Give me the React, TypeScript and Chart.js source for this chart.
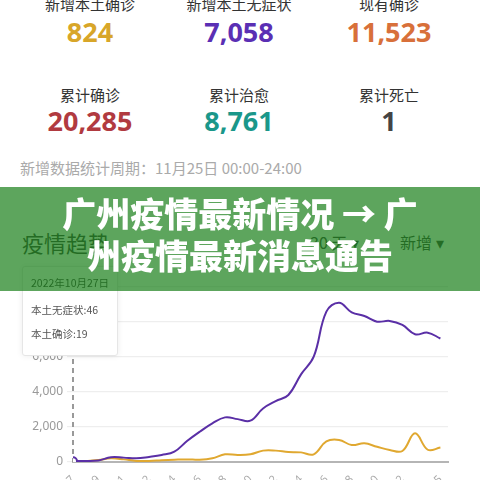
import React, { useEffect, useRef } from "react";
import { Chart, registerables } from "chart.js";

Chart.register(...registerables);

const dates = ["27","28","29","30","31","01","02","03","04","05","06","07","08","09","10","11","12","13","14","15","16","17","18","19","20","21","22","23","24","25"];
const tickIndices = [0, 2, 4, 6, 8, 10, 12, 14, 16, 18, 20, 22, 24, 26, 29];
const asymptomatic = [46, 60, 90, 270, 250, 210, 290, 400, 590, 1200, 1730, 2210, 2550, 2450, 2360, 3060, 3480, 3830, 5010, 6020, 8590, 9100, 8550, 8340, 8020, 8060, 7830, 7300, 7390, 7058];
const confirmed = [19, 50, 110, 210, 150, 60, 60, 100, 130, 150, 130, 210, 440, 400, 440, 650, 650, 570, 550, 440, 1180, 1260, 970, 1070, 870, 690, 630, 1640, 700, 824];
const yTicks = [0, 2000, 4000, 6000, 8000, 10000];

const statLabels = ["新增本土确诊", "新增本土无症状", "现有确诊", "累计确诊", "累计治愈", "累计死亡"];
const statValues = ["824", "7,058", "11,523", "20,285", "8,761", "1"];
const statColors = ["#d8a629", "#5a2fb4", "#d8703a", "#b13a40", "#1a978a", "#444444"];

const periodText = "新增数据统计周期：11月25日 00:00-24:00";
const chartTitle = "疫情趋势";
const rangeText = "30 天 ▾";
const typeText = "新增 ▾";
const tooltipDate = "2022年10月27日";
const tooltipLines = ["本土无症状:" + asymptomatic[0], "本土确诊:" + confirmed[0]];
const bannerLines = ["广州疫情最新情况 → 广", "州疫情最新消息通告"];

const FONT = '"Noto Sans", "Noto Sans CJK SC", sans-serif';

const dashPlugin = {
  id: "dashLine",
  beforeDatasetsDraw(chart: any) {
    const { ctx, chartArea, scales } = chart;
    const x = scales.x.getPixelForValue(0);
    ctx.save();
    ctx.setLineDash([5, 4]);
    ctx.strokeStyle = "#999";
    ctx.lineWidth = 2;
    ctx.beginPath();
    ctx.moveTo(x, chartArea.top);
    ctx.lineTo(x, chartArea.bottom);
    ctx.stroke();
    ctx.restore();
  },
};

function TrendChart() {
  const ref = useRef<HTMLCanvasElement>(null);
  useEffect(() => {
    if (!ref.current) return;
    const chart = new Chart(ref.current, {
      type: "line",
      data: {
        datasets: [
          {
            data: asymptomatic.map((v, i) => ({ x: i, y: v })),
            borderColor: "#5a2fa6",
            borderWidth: 2,
            tension: 0.4,
            pointRadius: asymptomatic.map((_, i) => (i === 0 ? 4 : 0)),
            pointBackgroundColor: "#fff",
            pointBorderColor: "#5a2fa6",
            pointBorderWidth: 2,
            order: 0,
          },
          {
            data: confirmed.map((v, i) => ({ x: i, y: v })),
            borderColor: "#e0a830",
            borderWidth: 2,
            tension: 0.4,
            pointRadius: 0,
            order: 1,
          },
        ],
      },
      options: {
        animation: false,
        responsive: true,
        maintainAspectRatio: false,
        layout: { padding: { top: 27, right: 32, left: 0, bottom: 0 } },
        plugins: { legend: { display: false }, tooltip: { enabled: false } },
        scales: {
          x: {
            type: "linear",
            min: 0,
            max: 29.6,
            afterBuildTicks: (s: any) => {
              s.ticks = tickIndices.map((v) => ({ value: v }));
            },
            afterFit: (s: any) => {
              s.height = 18;
            },
            grid: { display: false },
            border: { display: true, color: "#b5b5b5", width: 2 },
            ticks: {
              autoSkip: false,
              minRotation: 45,
              maxRotation: 45,
              color: "#aaa",
              font: { size: 11, family: FONT },
              callback: (v: any) => dates[v as number] ?? "",
            },
          },
          y: {
            min: 0,
            max: 10000,
            afterBuildTicks: (s: any) => {
              s.ticks = yTicks.map((v) => ({ value: v }));
            },
            afterFit: (s: any) => {
              s.width = 73;
            },
            grid: { color: "#eeeeee", tickLength: 6, lineWidth: 1.2 },
            border: { display: false },
            ticks: {
              padding: 4,
              color: "#999",
              font: { size: 12, family: FONT },
              callback: (v: any) => Number(v).toLocaleString("en-US"),
            },
          },
        },
      },
      plugins: [dashPlugin],
    } as any);
    return () => chart.destroy();
  }, []);
  return <canvas ref={ref} />;
}

export default function App() {
  const centers = [90, 239, 389];
  return (
    <div
      style={{
        position: "fixed",
        left: 0,
        top: 0,
        width: 480,
        height: 480,
        overflow: "hidden",
        background: "#fff",
        fontFamily: '"Noto Sans CJK SC", "Noto Sans", sans-serif',
      }}
    >
      {statLabels.map((label, i) => {
        const row = Math.floor(i / 3);
        const cx = centers[i % 3];
        return (
          <React.Fragment key={label}>
            <div
              style={{
                position: "absolute",
                left: cx - 90,
                width: 180,
                top: row === 0 ? -6 : 85,
                textAlign: "center",
                fontSize: 15,
                lineHeight: "20px",
                color: "#333",
              }}
            >
              {label}
            </div>
            <div
              style={{
                position: "absolute",
                left: cx - 90,
                width: 180,
                top: row === 0 ? 16 : 105,
                textAlign: "center",
                fontSize: 27,
                lineHeight: "32px",
                fontWeight: 700,
                fontFamily: FONT,
                color: statColors[i],
              }}
            >
              {statValues[i]}
            </div>
          </React.Fragment>
        );
      })}
      <div
        style={{
          position: "absolute",
          left: 20,
          top: 158,
          fontSize: 15,
          lineHeight: "20px",
          color: "#aaa",
          whiteSpace: "nowrap",
        }}
      >
        {periodText}
      </div>
      <div style={{ position: "absolute", left: 22, top: 228, fontSize: 22, lineHeight: "28px", color: "#333" }}>
        {chartTitle}
      </div>
      <div style={{ position: "absolute", left: 310, top: 232, fontSize: 16, lineHeight: "20px", color: "#333", whiteSpace: "nowrap" }}>
        {rangeText}
      </div>
      <div style={{ position: "absolute", left: 400, top: 232, fontSize: 16, lineHeight: "20px", color: "#333", whiteSpace: "nowrap" }}>
        {typeText}
      </div>
      <div style={{ position: "absolute", left: 0, top: 260, width: 480, height: 220 }}>
        <TrendChart />
      </div>
      <div
        style={{
          position: "absolute",
          left: 22,
          top: 266,
          width: 94,
          height: 88,
          background: "#fff",
          border: "1px solid #e6e6e6",
          boxShadow: "0 0 6px rgba(0,0,0,0.08)",
          borderRadius: 3,
          fontSize: 10.5,
          color: "#555",
        }}
      >
        <div style={{ position: "absolute", left: 8, top: 9, lineHeight: "14px", color: "#333", whiteSpace: "nowrap" }}>{tooltipDate}</div>
        <div style={{ position: "absolute", left: 8, top: 36, lineHeight: "14px", whiteSpace: "nowrap" }}>{tooltipLines[0]}</div>
        <div style={{ position: "absolute", left: 8, top: 60, lineHeight: "14px", whiteSpace: "nowrap" }}>{tooltipLines[1]}</div>
      </div>
      <div
        style={{
          position: "absolute",
          left: 0,
          top: 187,
          width: 480,
          height: 104,
          background: "rgba(30,130,30,0.72)",
        }}
      />
      <div
        style={{
          position: "absolute",
          left: 0,
          top: 192,
          width: 480,
          textAlign: "center",
          color: "#fff",
          fontSize: 34,
          lineHeight: "42px",
          fontWeight: 900,
          whiteSpace: "nowrap",
        }}
      >
        {bannerLines.map((l) => (
          <div key={l}>{l}</div>
        ))}
      </div>
    </div>
  );
}
